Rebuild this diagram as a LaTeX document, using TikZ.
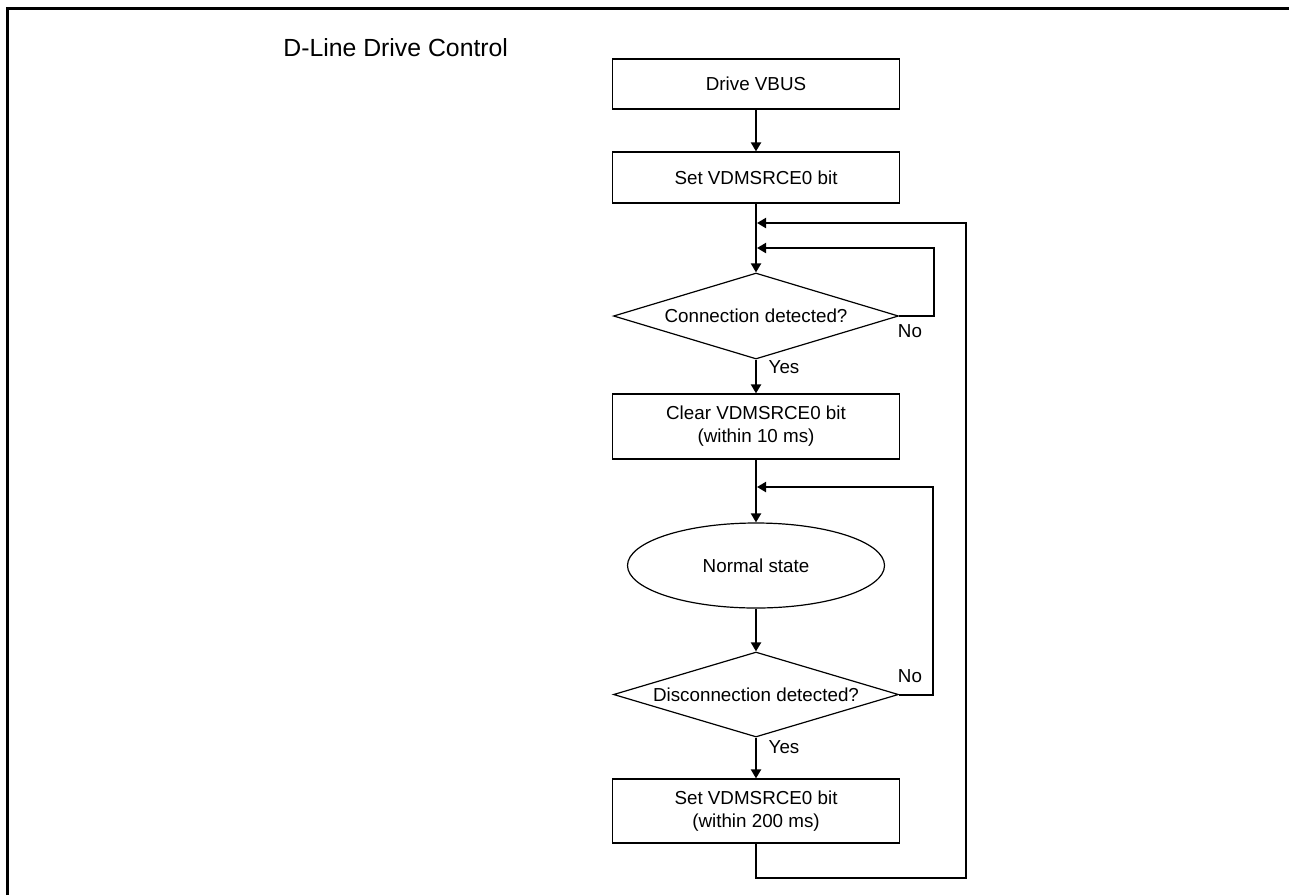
\documentclass[tikz,border=0pt]{standalone}
\usepackage{fontspec}
\setmainfont{Liberation Sans}
\usetikzlibrary{arrows.meta, calc, positioning, shapes.geometric}

\begin{document}
\begin{tikzpicture}[font=\fontsize{9.4}{11.5}\selectfont,
    box/.style={draw,line width=0.6pt,minimum width=143.5pt,inner sep=0pt,align=center},
    decision/.style={draw,diamond,line width=0.6pt,aspect=3.3,inner sep=0pt,minimum width=142.5pt},
    flow/.style={line width=1pt,-{Triangle[length=4.5pt,width=5pt]}},
    link/.style={line width=1pt}]
\begin{scope}[x=0.5pt,y=-0.5pt]
    \useasboundingbox (0,0) rectangle (1289,895);
    \draw[line width=1.5pt] (7.5,895)--(7.5,8.5)--(1289,8.5);
    \node[anchor=base west,inner sep=0pt,font=\fontsize{12.4}{15}\selectfont] (title) at (283,56) {D-Line Drive Control};

    %
    \node[box,minimum height=25pt] (drive) at (756,84) {Drive VBUS};
    \node[box,minimum height=25.5pt] (setbit) at (756,177.5) {Set VDMSRCE0 bit};
    \node[decision,minimum height=43pt] (conn) at (756,316) {Connection detected?};
    \node[box,minimum height=32.5pt] (clearbit) at (756,426.5) {Clear VDMSRCE0 bit\\(within 10 ms)};
    \node[draw,ellipse,line width=0.6pt,minimum width=128.5pt,minimum height=42.5pt,inner sep=0pt] (normal) at (756,565.5) {Normal state};
    \node[decision,minimum height=42.5pt] (disc) at (756,694.5) {Disconnection detected?};
    \node[box,minimum height=32pt] (setbit2) at (756,811) {Set VDMSRCE0 bit\\(within 200 ms)};

    %
    \draw[flow] (drive)--(setbit);
    \draw[flow] (setbit)--(conn);
    \draw[flow] (conn)--(clearbit);
    \draw[flow] (clearbit)--(normal);
    \draw[flow] (normal)--(disc);
    \draw[flow] (disc)--(setbit2);

    %
    \coordinate (noA) at (934,248);
    \coordinate (joinA) at (757,248);
    \coordinate (outA) at (966,878);
    \coordinate (joinB) at (757,223);
    \coordinate (noB) at (933,487);
    \coordinate (joinC) at (757,487);
    \draw[flow] (conn.east) -| (noA)--(joinA);
    \draw[flow] (setbit2.south) |- (outA) |- (joinB);
    \draw[flow] (disc.east) -| (noB)--(joinC);

    %
    \node[anchor=base,inner sep=0pt] (noconn) at (910,337) {No};
    \node[anchor=base,inner sep=0pt] (yesconn) at (784,373) {Yes};
    \node[anchor=base,inner sep=0pt] (nodisc) at (910,682) {No};
    \node[anchor=base,inner sep=0pt] (yesdisc) at (784,753) {Yes};
\end{scope}
\end{tikzpicture}
\end{document}
